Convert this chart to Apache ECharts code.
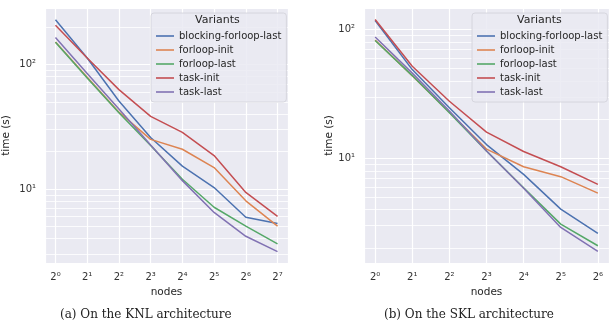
<!DOCTYPE html>
<html>
<head>
<meta charset="utf-8">
<script src="https://cdn.jsdelivr.net/npm/echarts@6/dist/echarts.min.js"></script>
<style>
html, body { margin: 0; padding: 0; background: #fff; }
#chart { width: 613px; height: 324px; }
</style>
</head>
<body>
<div id="chart"></div>
<script>
// variant names (legend order)
var variants = ['blocking-forloop-last', 'forloop-init', 'forloop-last', 'task-init', 'task-last'];
var colors = ['#4C72B0', '#DD8452', '#55A868', '#C44E52', '#8172B3'];

// (a) KNL
var knlNodes = [1, 2, 4, 8, 16, 32, 64, 128];
var knlBlockingForloopLast = [229, 113, 51, 26, 15.3, 10.3, 5.95, 5.3];
var knlForloopInit = [152, 79, 41.5, 25.1, 20.9, 14.9, 8.05, 5.05];
var knlForloopLast = [151, 78, 41, 22.4, 12.0, 7.15, 5.05, 3.63];
var knlTaskInit = [207, 113, 63, 38.4, 28.6, 18.6, 9.4, 6.05];
var knlTaskLast = [165, 85, 44, 22.6, 11.7, 6.5, 4.18, 3.15];

// (b) SKL
var sklNodes = [1, 2, 4, 8, 16, 32, 64];
var sklBlockingForloopLast = [118, 49, 24.7, 12.8, 7.5, 4.03, 2.61];
var sklForloopInit = [83, 44, 22.8, 11.8, 8.6, 7.2, 5.36];
var sklForloopLast = [82.6, 44, 22.6, 11.4, 5.9, 3.08, 2.09];
var sklTaskInit = [120, 52, 27.8, 16.0, 11.3, 8.6, 6.28];
var sklTaskLast = [87.7, 46, 23.3, 11.4, 5.85, 2.9, 1.89];

// minor y grid values
var knlMinorTicks = [3, 4, 5, 6, 7, 8, 9, 20, 30, 40, 50, 60, 70, 80, 90, 200];
var sklMinorTicks = [2, 3, 4, 5, 6, 7, 8, 9, 20, 30, 40, 50, 60, 70, 80, 90];

var captions = ['(a) On the KNL architecture', '(b) On the SKL architecture'];

var sup = '⁰¹²³⁴⁵⁶⁷⁸⁹';
function powLabel(base, v){
	var e = Math.log(v) / Math.log(base);
	var r = Math.round(e);
	if(Math.abs(e - r) > 1e-6) return '';
	return base + String(r).split('').map(function(c){ return sup[+c]; }).join('');
}

var txt = '#262626';
var font = 'DejaVu Sans';

function xAxisFor(idx, min, max){
	return {
		type: 'log', logBase: 2, gridIndex: idx, min: min, max: max, splitNumber: 8,
		name: 'nodes', nameLocation: 'middle', nameGap: 23,
		nameTextStyle: { fontFamily: font, fontSize: 10.5, color: txt },
		axisLine: { show: false }, axisTick: { show: false },
		axisLabel: { margin: 9, fontFamily: font, fontSize: 10, color: '#333',
			formatter: function(v){ return powLabel(2, v); } },
		splitLine: { show: true, lineStyle: { color: '#fff', width: 1.2 } }
	};
}
function yAxisFor(idx, min, max, gap){
	return {
		type: 'log', logBase: 10, gridIndex: idx, min: min, max: max, splitNumber: 5,
		name: 'time (s)', nameLocation: 'middle', nameGap: gap,
		nameTextStyle: { fontFamily: font, fontSize: 10.5, color: txt },
		axisLine: { show: false }, axisTick: { show: false },
		axisLabel: { margin: 9, fontFamily: font, fontSize: 10, color: '#333',
			formatter: function(v){ return powLabel(10, v); } },
		splitLine: { show: true, lineStyle: { color: '#fff', width: 1.2 } }
	};
}

function lineSeries(idx, nodes, values, k){
	return {
		name: variants[k], type: 'line', xAxisIndex: idx, yAxisIndex: idx, z: 3,
		data: nodes.map(function(n, i){ return [n, values[i]]; }),
		showSymbol: false, symbol: 'none',
		lineStyle: { color: colors[k], width: 1.5 },
		itemStyle: { color: colors[k] },
		animation: false
	};
}
function minorGrid(idx, ticks){
	return {
		name: 'minor-' + idx, type: 'line', xAxisIndex: idx, yAxisIndex: idx, z: 1, data: [],
		markLine: {
			silent: true, symbol: 'none', animation: false, z: 1,
			label: { show: false },
			lineStyle: { color: '#fff', width: 0.8, type: 'solid' },
			data: ticks.map(function(t){ return { yAxis: t }; })
		}
	};
}
function legendFor(left){
	return {
		data: variants, orient: 'vertical', left: left, top: 13, z: 10,
		icon: 'rect', itemWidth: 18, itemHeight: 1.6, itemGap: 2,
		selectedMode: false,
		padding: [17, 5, 4, 5],
		backgroundColor: 'rgba(234,234,242,0.85)', borderColor: '#d0d0d8', borderWidth: 0.8, borderRadius: 3,
		textStyle: { fontFamily: font, fontSize: 10, lineHeight: 12, color: txt }
	};
}

var knlSets = [knlBlockingForloopLast, knlForloopInit, knlForloopLast, knlTaskInit, knlTaskLast];
var sklSets = [sklBlockingForloopLast, sklForloopInit, sklForloopLast, sklTaskInit, sklTaskLast];

var series = [minorGrid(0, knlMinorTicks), minorGrid(1, sklMinorTicks)];
knlSets.forEach(function(s, k){ series.push(lineSeries(0, knlNodes, s, k)); });
sklSets.forEach(function(s, k){ series.push(lineSeries(1, sklNodes, s, k)); });

var myChart = echarts.init(document.getElementById('chart'));
myChart.setOption({
	animation: false,
	grid: [
		{ left: 42, top: 8, width: 246, height: 255, show: true, backgroundColor: '#EAEAF2', borderWidth: 0 },
		{ left: 364, top: 8, width: 245, height: 255, show: true, backgroundColor: '#EAEAF2', borderWidth: 0 }
	],
	xAxis: [
		xAxisFor(0, Math.pow(2, -0.33), Math.pow(2, 7.33)),
		xAxisFor(1, Math.pow(2, -0.3), Math.pow(2, 6.3))
	],
	yAxis: [
		yAxisFor(0, 2.55, 285, 33),
		yAxisFor(1, 1.535, 147.6, 28)
	],
	legend: [legendFor(151), legendFor(472)],
	graphic: [
		{ type: 'text', left: 195, top: 15, z: 100, style: { text: 'Variants', font: '11px "DejaVu Sans"', fill: txt } },
		{ type: 'text', left: 517, top: 15, z: 100, style: { text: 'Variants', font: '11px "DejaVu Sans"', fill: txt } },
		{ type: 'text', left: 60, top: 309, style: { text: captions[0], font: '12px "DejaVu Serif"', fill: '#222' } },
		{ type: 'text', left: 384, top: 309, style: { text: captions[1], font: '12px "DejaVu Serif"', fill: '#222' } }
	],
	series: series
});
</script>
</body>
</html>
